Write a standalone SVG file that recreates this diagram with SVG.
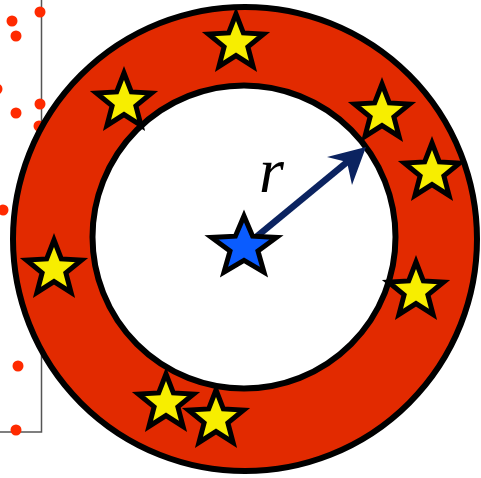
<svg xmlns="http://www.w3.org/2000/svg" width="481" height="478" viewBox="0 0 481 478">
  <style>
    .dot { fill: #ff2a00; }
    .star { stroke: #000; stroke-width: 5; stroke-linejoin: miter; stroke-miterlimit: 10; }
    .yellow { fill: #f7ee00; }
    .blue { fill: #0a5cff; }
  </style>
  <defs>
    <path id="starShape" d="M0,-29 L7.31,-10.09 L27.58,-8.97 L11.89,3.86 L17.04,23.47 L0,12.53 L-17.04,23.47 L-11.89,3.86 L-27.58,-8.97 L-7.31,-10.09 Z"/>
    <path id="starBig" d="M0,-31 L8.6,-10.8 L32.5,-9.6 L14,4.1 L20,25.1 L0,13.4 L-20,25.1 L-14,4.1 L-32.5,-9.6 L-8.6,-10.8 Z"/>
  </defs>
  <rect width="481" height="478" fill="#fff"/>
  <g id="background-plot">
    <polyline points="41.5,0 41.5,432 0,432" fill="none" stroke="#555" stroke-width="1.5"/>
    <circle class="dot" cx="40" cy="12" r="5.5"/>
    <circle class="dot" cx="12" cy="21" r="5.5"/>
    <circle class="dot" cx="16" cy="36" r="5.5"/>
    <circle class="dot" cx="-3" cy="89" r="5.5"/>
    <circle class="dot" cx="40" cy="104" r="5.5"/>
    <circle class="dot" cx="16" cy="113" r="5.5"/>
    <circle class="dot" cx="39" cy="126" r="5.5"/>
    <circle class="dot" cx="3" cy="210" r="5.5"/>
    <circle class="dot" cx="18" cy="366" r="5.5"/>
    <circle class="dot" cx="16" cy="430" r="5.5"/>
  </g>
  <g id="ring">
    <circle cx="245" cy="239" r="232" fill="#e22a00" stroke="#000" stroke-width="6"/>
    <circle cx="244" cy="237" r="151.5" fill="#fff" stroke="#000" stroke-width="6"/>
  </g>
  <g id="connectors">
    <line x1="244" y1="247" x2="352" y2="158" stroke="#0b2360" stroke-width="6.5"/>
    <polygon points="366,147 327,157 347,162 352,185" fill="#0b2360"/>
  </g>
  <g id="label-r">
    <text x="259" y="192" font-family="Liberation Serif, serif" font-style="italic" font-size="64" fill="#000">r</text>
  </g>
  <g id="star-top"><use href="#starShape" class="star yellow" x="236" y="43"/></g>
  <g id="star-upper-left"><use href="#starShape" class="star yellow" x="124" y="102"/></g>
  <g id="star-upper-right"><use href="#starShape" class="star yellow" x="382" y="113"/></g>
  <g id="star-right"><use href="#starShape" class="star yellow" x="432" y="172"/></g>
  <g id="star-right-lower"><use href="#starShape" class="star yellow" x="416" y="291"/></g>
  <g id="star-left"><use href="#starShape" class="star yellow" x="54" y="269"/></g>
  <g id="star-bottom-a"><use href="#starShape" class="star yellow" x="166" y="403"/></g>
  <g id="star-bottom-b"><use href="#starShape" class="star yellow" x="216" y="419"/></g>
  <g id="star-center"><use href="#starBig" class="star blue" x="244" y="247"/></g>
</svg>
